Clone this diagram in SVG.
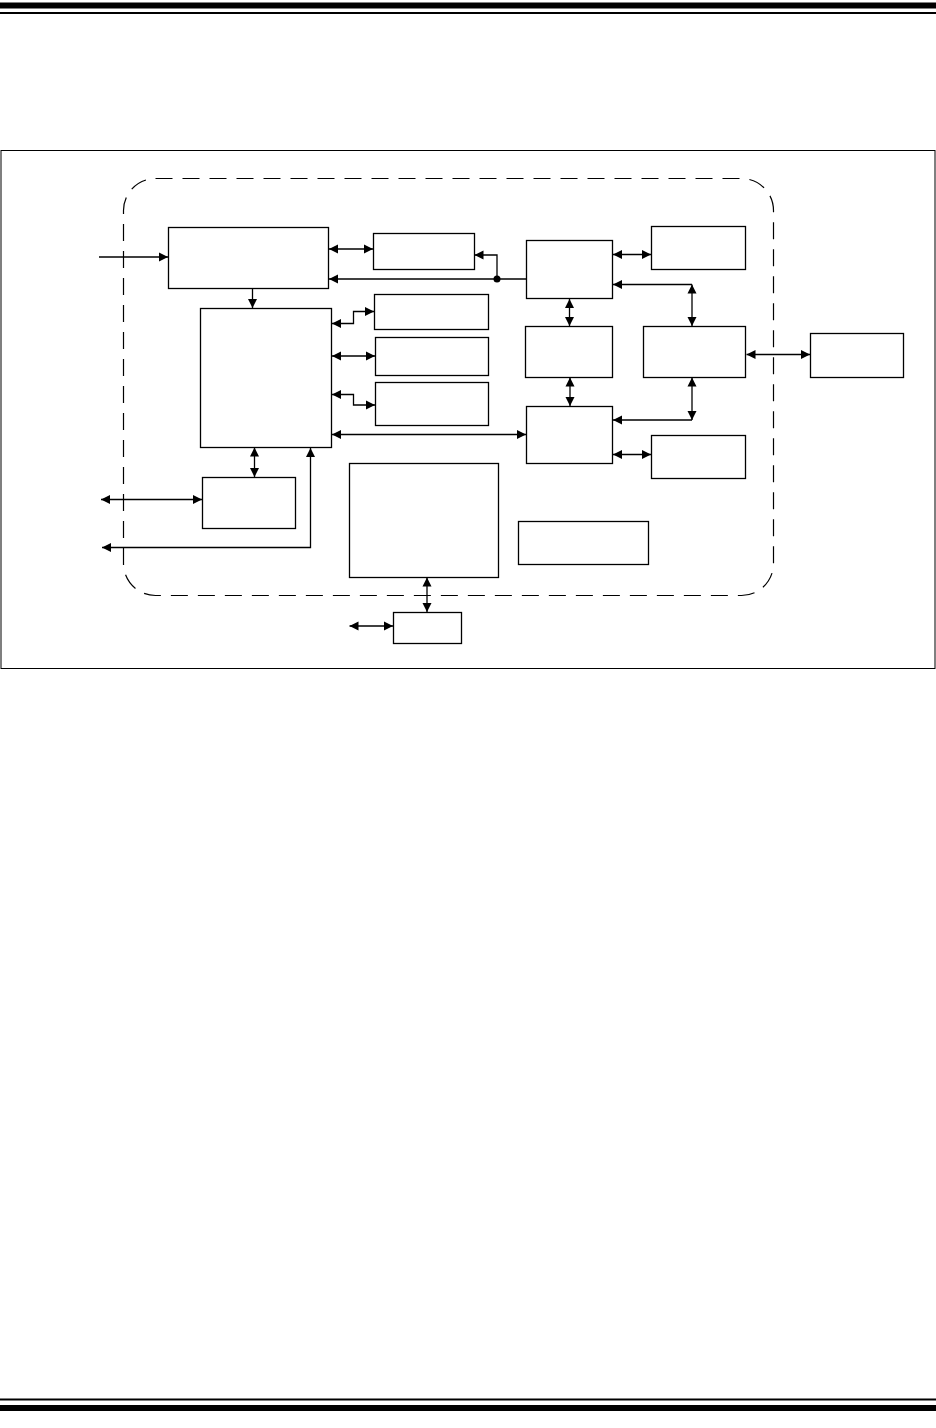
<svg xmlns="http://www.w3.org/2000/svg" width="936" height="1428" viewBox="0 0 936 1428">
<style>
.box{fill:#fff;stroke:#000;stroke-width:1.3}
.c{fill:none;stroke:#000;stroke-width:1.3;marker-end:url(#ah)}
.b{marker-start:url(#ah)}
.dash{fill:none;stroke:#000;stroke-width:1.2;stroke-dasharray:17 10}
</style>
<defs>
<marker id="ah" viewBox="0 0 10 10" refX="10" refY="5" markerWidth="9" markerHeight="10" markerUnits="userSpaceOnUse" orient="auto-start-reverse">
<path d="M0,0 L10,5 L0,10 z" fill="#000"/>
</marker>
</defs>
<rect width="936" height="1428" fill="#fff"/>
<g id="page-rules">
<rect x="0" y="2.5" width="936" height="6" fill="#000"/>
<rect x="0" y="12" width="936" height="2" fill="#000"/>
<rect x="0" y="1398.5" width="936" height="2" fill="#000"/>
<rect x="0" y="1405" width="936" height="6" fill="#000"/>
</g>
<g id="frame"><rect x="1" y="150.5" width="934" height="518" fill="none" stroke="#000" stroke-width="1"/></g>
<g id="boundary"><rect class="dash" x="123.5" y="178.5" width="650" height="417" rx="32" ry="32"/></g>
<g id="nodes">
<rect id="nA" class="box" x="168.5" y="227.5" width="160" height="61"/>
<rect id="nB" class="box" x="373.5" y="233.5" width="101" height="36"/>
<rect id="nD" class="box" x="200.5" y="308.5" width="131" height="139"/>
<rect id="nE1" class="box" x="374.5" y="294.5" width="114" height="35"/>
<rect id="nE2" class="box" x="375.5" y="337.5" width="113" height="38"/>
<rect id="nE3" class="box" x="375.5" y="382.5" width="113" height="43"/>
<rect id="nC" class="box" x="526.5" y="240.5" width="86" height="58"/>
<rect id="nG" class="box" x="651.5" y="226.5" width="94" height="43"/>
<rect id="nM" class="box" x="525.5" y="326.5" width="87" height="51"/>
<rect id="nH" class="box" x="643.5" y="326.5" width="102" height="51"/>
<rect id="nX" class="box" x="810.5" y="333.5" width="93" height="44"/>
<rect id="nF" class="box" x="526.5" y="406.5" width="86" height="57"/>
<rect id="nK" class="box" x="651.5" y="435.5" width="94" height="43"/>
<rect id="nL" class="box" x="202.5" y="477.5" width="93" height="51"/>
<rect id="nN" class="box" x="349.5" y="463.5" width="149" height="114"/>
<rect id="nQ" class="box" x="518.5" y="521.5" width="130" height="43"/>
<rect id="nP" class="box" x="393.5" y="612.5" width="68" height="31"/>
</g>
<g id="connectors">
<path class="c" d="M99,257 H168"/>
<path class="c b" d="M329,249 H373"/>
<path class="c" d="M527,279 H329"/>
<path class="c" d="M497,279 V255 H474.5"/>
<circle cx="497" cy="279" r="3.5" fill="#000"/>
<path class="c" d="M252.5,288.5 V308"/>
<path class="c b" d="M332,323.5 H353.5 V311.5 H374"/>
<path class="c b" d="M332,356 H375"/>
<path class="c b" d="M332,394.5 H353.5 V405 H375"/>
<path class="c b" d="M332,434.5 H526"/>
<path class="c b" d="M613,254.5 H651"/>
<path class="c" d="M692,284.5 H613"/>
<path class="c b" d="M692,284.5 V326"/>
<path class="c b" d="M569.5,299 V326"/>
<path class="c b" d="M746.5,354.5 H810"/>
<path class="c b" d="M570,377.5 V406"/>
<path class="c b" d="M692,377.5 V420"/>
<path class="c" d="M692,420 H613"/>
<path class="c b" d="M613,454.5 H651"/>
<path class="c b" d="M254.5,447.5 V477"/>
<path class="c b" d="M101,499.5 H202"/>
<path class="c b" d="M310.5,448 V547.5 H102"/>
<path class="c b" d="M427,577.5 V612"/>
<path class="c b" d="M349.5,626 H393"/>
</g>
</svg>
